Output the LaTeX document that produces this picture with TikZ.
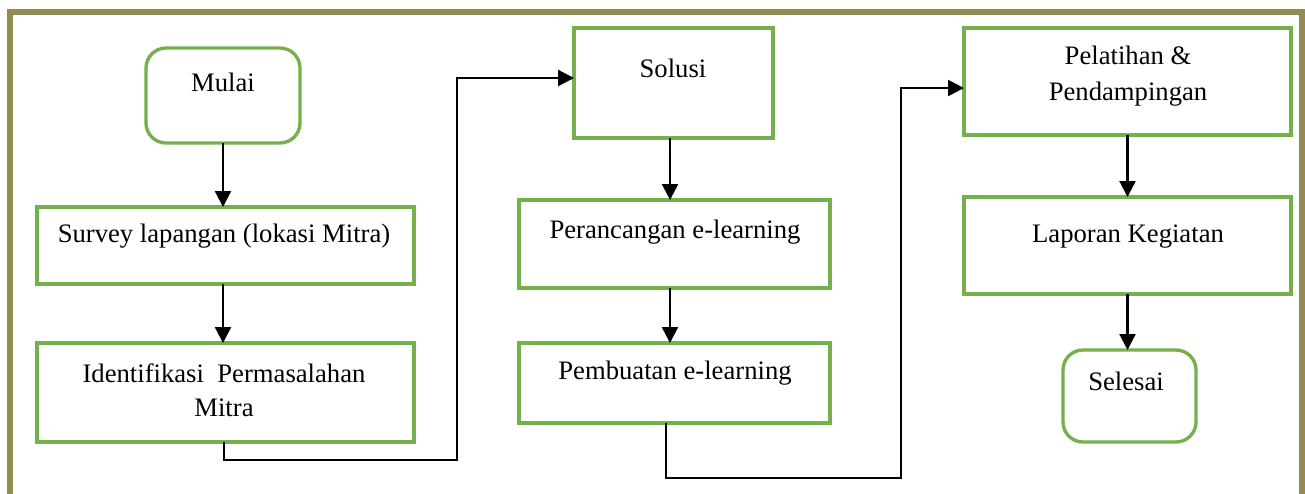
\documentclass[tikz,border=0pt]{standalone}
\usepackage{fontspec}
\setmainfont{Liberation Serif}
\usetikzlibrary{arrows.meta}
\definecolor{boxgreen}{HTML}{74B04C}
\definecolor{olive}{HTML}{948A54}
\begin{document}
\begin{tikzpicture}[x=0.75pt,y=-0.75pt,
  box/.style={draw=boxgreen, line width=2.5pt, inner sep=0pt, outer sep=0pt, fill=white},
  rbox/.style={box, rounded corners=15pt},
  lbl/.style={anchor=base, align=center, inner sep=0pt, font=\fontsize{20pt}{24pt}\selectfont},
  arr/.style={draw=black, line width=1.7pt, -{Triangle[length=12pt,width=12pt]}}]
\useasboundingbox (0,0) rectangle (1305,493);
\clip (0,0) rectangle (1305,493);
\fill[white] (0,0) rectangle (1305,493);
% page border
\draw[olive, line width=3.8pt] (10,520) -- (10,12) -- (1302,12) -- (1302,520);
% boxes
\node[rbox, minimum width=115.5pt, minimum height=71.25pt] (mulai) at (223,95.5) {};
\node[box, minimum width=282.75pt, minimum height=57.75pt] (survey) at (225.5,245.5) {};
\node[box, minimum width=282.75pt, minimum height=74.25pt] (ident) at (225.5,392.5) {};
\node[box, minimum width=149.25pt, minimum height=82.5pt] (solusi) at (673.5,83) {};
\node[box, minimum width=233.25pt, minimum height=66pt] (peranc) at (674.5,244) {};
\node[box, minimum width=233.25pt, minimum height=60pt] (pembuat) at (674.5,383) {};
\node[box, minimum width=245.25pt, minimum height=80.25pt] (pelat) at (1127.5,81.5) {};
\node[box, minimum width=245.25pt, minimum height=72.75pt] (lapor) at (1127.5,245.5) {};
\node[rbox, minimum width=99.75pt, minimum height=69pt] (selesai) at (1129.5,396) {};
% texts
\node[lbl] (mulai-t) at (223,91) {Mulai};
\node[lbl] (survey-t) at (224,242) {Survey lapangan (lokasi Mitra)};
\node[lbl, font=\fontsize{20pt}{25.5pt}\selectfont] (ident-t) at (224,416) {Identifikasi\ \ Permasalahan\\Mitra};
\node[lbl] (solusi-t) at (673,77) {Solusi};
\node[lbl] (peranc-t) at (675,238) {Perancangan e-learning};
\node[lbl] (pembuat-t) at (675,379) {Pembuatan e-learning};
\node[lbl, font=\fontsize{20pt}{27pt}\selectfont] (pelat-t) at (1128,100) {Pelatihan \&\\Pendampingan};
\node[lbl] (lapor-t) at (1128,242) {Laporan Kegiatan};
\node[lbl] (selesai-t) at (1126,390) {Selesai};
% connectors
\draw[arr] (mulai.south) -- (mulai.south |- survey.north);
\draw[arr] (mulai.south |- survey.south) -- (mulai.south |- ident.north);
\coordinate (e1) at (457,460);
\draw[arr] ([xshift=-1.1pt]ident.south) |- (e1) |- ([yshift=3.75pt]solusi.west);
\draw[arr] ([xshift=-2.6pt]solusi.south) -- ([xshift=-2.6pt]solusi.south |- peranc.north);
\draw[arr] ([xshift=-3.4pt]peranc.south) -- ([xshift=-3.4pt]peranc.south |- pembuat.north);
\coordinate (e2) at (901,478);
\draw[arr] ([xshift=-6.4pt]pembuat.south) |- (e2) |- ([yshift=-4.9pt]pelat.west);
\draw[arr] (pelat.south) -- (pelat.south |- lapor.north);
\draw[arr] (lapor.south) -- (lapor.south |- selesai.north);
\end{tikzpicture}
\end{document}
